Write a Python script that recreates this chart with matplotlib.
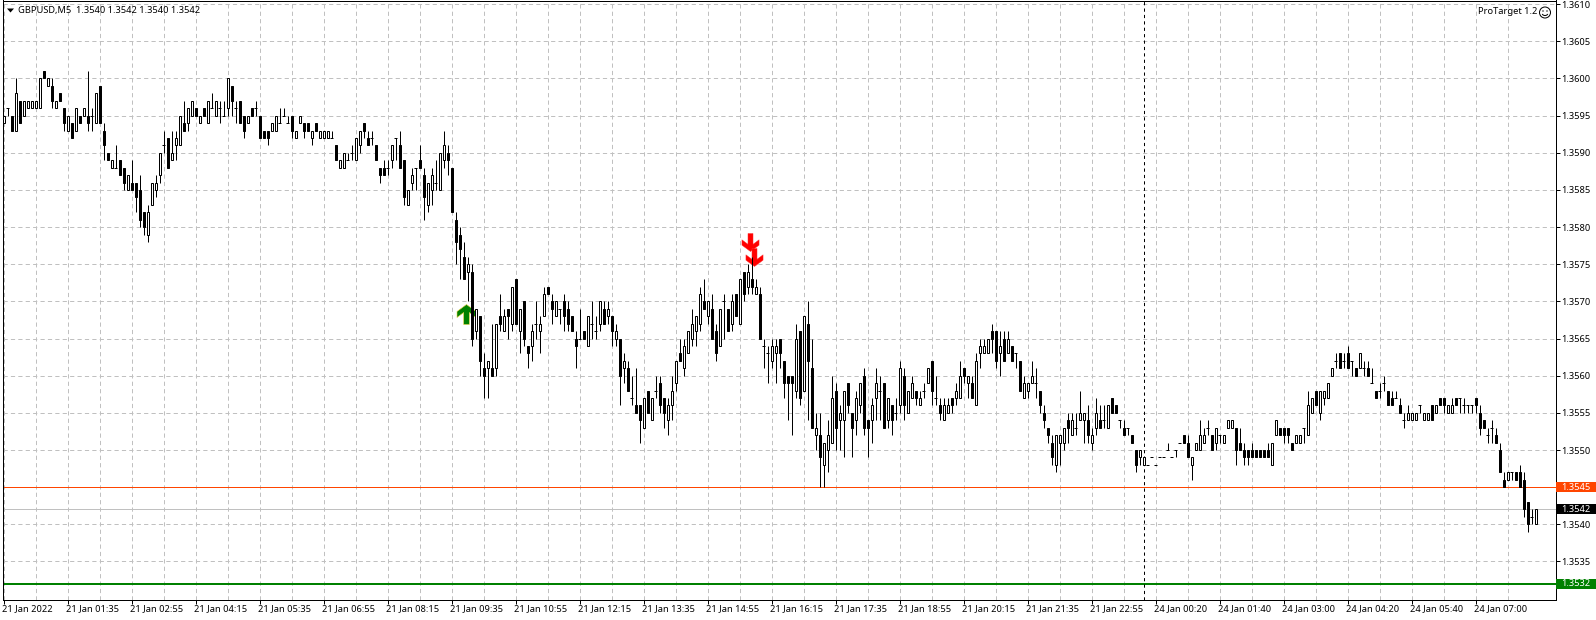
import matplotlib
matplotlib.use("Agg")
import matplotlib.pyplot as plt
from matplotlib.patches import Circle, Rectangle, Arc
from matplotlib.path import Path
import numpy as np

W, H = 1596, 620

# GBPUSD M5 bars, pips above 1.3500 (the feed has 4 digits so all are whole pips)
opens = [
    94, 96, 95, 93, 97, 95, 96, 96, 96, 96, 101, 99, 99, 96, 98, 96, 93, 94, 93, 95,
    95, 95, 95, 94, 99, 93, 90, 88, 88, 89, 88, 85, 86, 86, 85, 82, 79, 83, 85, 87,
    91, 92, 89, 91, 91, 94, 94, 95, 96, 94, 96, 94, 96, 95, 96, 95, 96, 99, 96, 97,
    95, 94, 96, 96, 95, 93, 93, 93, 93, 94, 95, 94, 95, 92, 94, 94, 94, 92, 94, 92,
    92, 92, 92, 91, 88, 88, 89, 90, 89, 91, 94, 92, 92, 91, 88, 88, 88, 89, 92, 91,
    89, 83, 86, 88, 89, 87, 83, 85, 86, 85, 89, 90, 88, 81, 79, 76, 74, 74, 66, 68,
    61, 61, 61, 61, 68, 66, 69, 67, 73, 66, 70, 64, 64, 67, 66, 68, 72, 70, 68, 69,
    70, 69, 68, 65, 65, 66, 64, 67, 66, 67, 69, 68, 68, 65, 65, 61, 61, 57, 56, 56,
    53, 58, 54, 58, 59, 57, 54, 56, 59, 63, 61, 63, 65, 66, 67, 70, 68, 69, 66, 64,
    70, 69, 67, 71, 67, 74, 72, 73, 71, 71, 64, 63, 62, 63, 65, 62, 60, 60, 58, 66,
    58, 67, 61, 52, 52, 48, 50, 51, 58, 54, 54, 59, 55, 54, 56, 60, 54, 54, 57, 58,
    59, 54, 56, 55, 56, 60, 55, 57, 58, 56, 58, 59, 62, 57, 56, 54, 55, 57, 57, 57,
    61, 59, 59, 56, 63, 63, 63, 66, 66, 63, 65, 63, 64, 63, 62, 57, 58, 59, 59, 58,
    55, 53, 51, 48, 51, 51, 54, 52, 53, 54, 54, 54, 51, 53, 54, 54, 53, 57, 56, 54,
    53, 53, 52, 50, 49, 48, 48, 49, 48, 49, 49, 50, 49, 50, 51, 52, 51, 48, 50, 50,
    51, 53, 52, 51, 52, 51, 53, 53, 53, 51, 50, 50, 50, 50, 50, 50, 50, 48, 52, 53,
    53, 53, 51, 51, 51, 53, 52, 55, 58, 55, 57, 57, 60, 62, 63, 62, 63, 62, 61, 61,
    61, 61, 59, 58, 58, 59, 58, 57, 57, 56, 54, 54, 54, 54, 56, 54, 54, 56, 55, 57,
    57, 55, 55, 57, 57, 56, 56, 56, 57, 55, 54, 52, 53, 52, 50, 46, 46, 47, 47, 47,
    46, 43, 41, 40,
]
highs = [
    95, 96, 95, 100, 97, 97, 97, 97, 97, 100, 101, 100, 100, 97, 98, 96, 95, 94, 96, 95,
    96, 101, 96, 98, 99, 94, 90, 89, 91, 89, 88, 87, 89, 86, 87, 82, 83, 86, 87, 90,
    93, 92, 93, 93, 95, 97, 96, 97, 96, 95, 96, 97, 98, 97, 97, 97, 100, 99, 97, 97,
    95, 95, 96, 97, 95, 93, 93, 94, 95, 96, 96, 95, 95, 93, 95, 94, 94, 93, 94, 93,
    93, 93, 93, 91, 89, 90, 90, 91, 92, 93, 94, 93, 93, 91, 88, 89, 89, 91, 92, 93,
    89, 85, 88, 88, 91, 88, 86, 88, 89, 90, 93, 91, 88, 82, 80, 78, 76, 75, 69, 68,
    63, 62, 67, 67, 71, 69, 69, 72, 73, 69, 70, 64, 67, 70, 68, 72, 72, 71, 70, 69,
    71, 70, 68, 66, 69, 66, 68, 70, 68, 70, 70, 70, 68, 67, 65, 63, 62, 60, 61, 56,
    57, 58, 57, 60, 60, 57, 57, 60, 62, 65, 65, 66, 69, 68, 72, 73, 70, 71, 67, 69,
    71, 69, 71, 71, 73, 74, 75, 76, 73, 72, 65, 64, 65, 65, 65, 62, 60, 60, 67, 66,
    68, 70, 65, 55, 55, 51, 54, 60, 59, 56, 58, 59, 55, 58, 59, 61, 54, 57, 61, 60,
    59, 57, 56, 57, 62, 61, 58, 60, 58, 58, 59, 61, 62, 60, 57, 57, 57, 57, 59, 62,
    61, 60, 60, 63, 65, 65, 65, 67, 66, 66, 66, 66, 64, 63, 62, 60, 59, 62, 61, 58,
    56, 53, 52, 52, 52, 53, 55, 55, 55, 58, 55, 56, 53, 57, 56, 56, 56, 57, 56, 54,
    54, 53, 52, 50, 50, 49, 48, 49, 48, 49, 49, 51, 49, 50, 51, 52, 52, 49, 51, 54,
    53, 54, 52, 53, 52, 52, 54, 54, 53, 53, 51, 50, 51, 50, 50, 50, 51, 51, 54, 53,
    53, 53, 51, 52, 52, 53, 58, 57, 58, 58, 58, 59, 61, 63, 63, 63, 64, 62, 61, 63,
    62, 62, 61, 58, 59, 60, 58, 58, 58, 57, 55, 56, 55, 55, 56, 55, 55, 56, 56, 57,
    57, 56, 57, 57, 57, 57, 56, 56, 57, 56, 54, 53, 54, 53, 51, 47, 47, 47, 47, 48,
    47, 43, 42, 42,
]
lows = [
    94, 95, 93, 93, 94, 95, 96, 96, 96, 96, 100, 99, 96, 96, 97, 93, 93, 92, 93, 94,
    95, 93, 93, 94, 94, 89, 89, 88, 88, 87, 85, 85, 85, 82, 80, 79, 78, 83, 84, 86,
    90, 88, 89, 89, 91, 93, 93, 95, 95, 94, 95, 94, 96, 95, 94, 95, 95, 95, 94, 94,
    92, 94, 95, 95, 92, 92, 91, 93, 93, 94, 95, 94, 92, 92, 94, 92, 93, 91, 93, 92,
    92, 92, 92, 89, 88, 88, 89, 89, 89, 90, 92, 91, 91, 89, 86, 87, 87, 88, 89, 88,
    83, 83, 85, 85, 88, 81, 82, 83, 85, 85, 88, 87, 82, 75, 73, 73, 70, 64, 65, 60,
    57, 57, 60, 60, 66, 66, 65, 66, 67, 63, 64, 61, 62, 65, 63, 68, 71, 67, 68, 67,
    66, 66, 66, 61, 65, 65, 64, 65, 65, 66, 67, 67, 64, 64, 56, 59, 58, 56, 55, 51,
    53, 55, 54, 57, 55, 53, 52, 54, 58, 62, 60, 63, 64, 64, 66, 69, 67, 65, 62, 64,
    65, 66, 66, 68, 67, 70, 71, 71, 71, 65, 61, 59, 61, 59, 61, 57, 54, 52, 57, 56,
    58, 54, 53, 50, 45, 45, 47, 51, 50, 50, 49, 55, 49, 52, 55, 52, 49, 51, 54, 54,
    53, 53, 52, 54, 55, 54, 55, 57, 56, 56, 57, 59, 56, 56, 54, 54, 55, 55, 56, 57,
    59, 57, 57, 56, 61, 63, 63, 63, 61, 60, 62, 63, 62, 61, 58, 57, 57, 59, 57, 55,
    53, 51, 48, 47, 48, 50, 51, 52, 52, 54, 51, 51, 50, 52, 53, 53, 53, 55, 55, 53,
    52, 52, 51, 47, 48, 48, 48, 49, 48, 49, 49, 50, 49, 49, 51, 51, 49, 46, 50, 50,
    51, 52, 50, 50, 51, 51, 53, 53, 48, 50, 48, 48, 49, 49, 49, 49, 49, 48, 52, 52,
    51, 51, 50, 51, 51, 51, 52, 55, 56, 54, 56, 57, 60, 61, 61, 61, 61, 60, 60, 61,
    60, 60, 59, 57, 57, 58, 56, 56, 57, 55, 53, 54, 54, 54, 55, 54, 54, 54, 55, 56,
    55, 55, 55, 56, 55, 55, 55, 55, 55, 52, 53, 51, 51, 51, 47, 45, 46, 46, 46, 45,
    41, 39, 40, 40,
]
closes = [
    95, 96, 93, 98, 94, 97, 97, 97, 97, 100, 100, 100, 97, 97, 97, 94, 95, 92, 96, 94,
    96, 94, 95, 98, 94, 91, 89, 89, 88, 87, 86, 87, 85, 84, 81, 80, 82, 86, 86, 90,
    91, 88, 90, 92, 95, 93, 96, 97, 95, 95, 95, 97, 96, 97, 96, 95, 100, 97, 96, 94,
    93, 95, 95, 96, 92, 92, 92, 94, 95, 94, 95, 94, 93, 93, 95, 93, 93, 93, 93, 93,
    93, 93, 92, 89, 89, 90, 89, 90, 92, 93, 93, 91, 92, 89, 87, 87, 88, 91, 92, 88,
    84, 85, 87, 88, 88, 84, 86, 87, 86, 90, 91, 89, 82, 78, 77, 73, 75, 65, 69, 62,
    60, 62, 60, 67, 67, 68, 68, 72, 67, 69, 65, 63, 66, 67, 67, 71, 71, 69, 70, 69,
    68, 67, 66, 64, 65, 65, 68, 67, 66, 70, 67, 69, 66, 66, 60, 62, 58, 57, 55, 54,
    57, 55, 57, 58, 56, 55, 56, 58, 62, 62, 64, 66, 67, 68, 71, 69, 70, 65, 63, 69,
    70, 66, 70, 68, 73, 71, 74, 72, 72, 65, 64, 63, 64, 64, 63, 59, 59, 59, 65, 57,
    68, 62, 53, 53, 49, 51, 52, 57, 53, 55, 58, 56, 53, 57, 59, 53, 53, 56, 59, 58,
    53, 57, 54, 55, 61, 56, 58, 59, 57, 57, 58, 61, 58, 57, 55, 56, 56, 56, 58, 60,
    60, 60, 57, 62, 64, 64, 65, 65, 62, 64, 62, 65, 62, 63, 58, 59, 59, 60, 59, 56,
    54, 52, 49, 52, 52, 53, 53, 54, 53, 55, 55, 52, 52, 55, 53, 54, 56, 55, 55, 54,
    52, 53, 51, 48, 50, 49, 48, 49, 48, 49, 49, 50, 49, 50, 51, 51, 49, 49, 51, 52,
    52, 53, 50, 53, 52, 52, 54, 54, 50, 50, 49, 49, 49, 49, 49, 49, 49, 51, 54, 52,
    52, 52, 50, 52, 52, 53, 56, 57, 56, 58, 58, 59, 61, 62, 61, 62, 61, 62, 60, 63,
    61, 60, 59, 57, 58, 59, 56, 56, 57, 55, 54, 55, 55, 55, 56, 55, 55, 54, 56, 56,
    56, 56, 56, 56, 57, 56, 56, 56, 56, 53, 53, 52, 53, 51, 47, 45, 47, 47, 46, 45,
    42, 40, 41, 42,
]

n_bars = len(opens)
opens = np.array(opens) / 10000 + 1.35
highs = np.array(highs) / 10000 + 1.35
lows = np.array(lows) / 10000 + 1.35
closes = np.array(closes) / 10000 + 1.35
bars = np.arange(n_bars)

price_ticks = [1.3535, 1.3540, 1.3545, 1.3550, 1.3555, 1.3560, 1.3565, 1.3570, 1.3575,
               1.3580, 1.3585, 1.3590, 1.3595, 1.3600, 1.3605, 1.3610]
time_labels = ["21 Jan 2022", "21 Jan 01:35", "21 Jan 02:55", "21 Jan 04:15", "21 Jan 05:35",
               "21 Jan 06:55", "21 Jan 08:15", "21 Jan 09:35", "21 Jan 10:55", "21 Jan 12:15",
               "21 Jan 13:35", "21 Jan 14:55", "21 Jan 16:15", "21 Jan 17:35", "21 Jan 18:55",
               "21 Jan 20:15", "21 Jan 21:35", "21 Jan 22:55", "24 Jan 00:20", "24 Jan 01:40",
               "24 Jan 03:00", "24 Jan 04:20", "24 Jan 05:40", "24 Jan 07:00"]

# horizontal levels with their price tag colours
levels = [1.3545, 1.3542, 1.3532]
level_colors = ["#ff4500", "#c0c0c0", "#008000"]
level_widths = [1, 1, 2]
tag_colors = ["#ff4500", "#000000", "#008000"]

buy_bars = [115.6]
buy_prices = [1.35683]
sell_bars = [186.6, 187.7]
sell_prices = [1.3578, 1.3576]
day_start_bar = 285

px = 72 / 100  # one pixel in points
font_size = 6.7

plt.rcParams["font.family"] = ["Noto Sans", "DejaVu Sans"]
fig = plt.figure(figsize=(W / 100, H / 100), dpi=100, facecolor="white")
ax = fig.add_axes([2.5 / W, (H - 599.5) / H, 1553 / W, 599 / H])
ax.set_xlim((2.5 - 3.5) / 4, (1555.5 - 3.5) / 4)
# 1.3540 sits at y=524.3 and one pip is 7.43 px
ax.set_ylim(1.3540 - (599.5 - 524.3) / 7.43 / 10000, 1.3540 + (524.3 - 0.5) / 7.43 / 10000)

ax.set_axisbelow(True)
ax.grid(True, which="both", color="#c0c0c0", lw=px, linestyle=(0, (4.2, 3.2)))
ax.set_xticks(np.arange(0, n_bars, 16))
ax.set_xticks(np.arange(8, n_bars + 1, 16), minor=True)
ax.set_xticklabels(time_labels, ha="left", fontsize=font_size)
ax.set_yticks(price_ticks)
ax.set_yticklabels(["%.4f" % p for p in price_ticks], fontsize=font_size)
ax.yaxis.tick_right()
ax.tick_params(axis="x", which="major", length=3.5 * px, width=px, pad=0.8, color="black")
ax.tick_params(axis="x", which="minor", length=0)
ax.tick_params(axis="y", which="major", length=3.5 * px, width=px, pad=1.5, color="black")
# date labels start a little left of their tick; has to come after tick_params
shift = matplotlib.transforms.ScaledTranslation(-2 / 100, 0, fig.dpi_scale_trans)
for lab in ax.get_xticklabels():
    lab.set_transform(lab.get_transform() + shift)
for s in ax.spines.values():
    s.set_linewidth(px)

# signal arrows go under the candles
down_verts = [(-0.28, 1), (0.28, 1), (0.28, -0.2), (0.95, 0.3), (0.95, -0.3), (0, -1),
              (-0.95, -0.3), (-0.95, 0.3), (-0.28, -0.2), (-0.28, 1)]
up_verts = [(x, -y) for x, y in down_verts]
ax.plot(sell_bars, sell_prices, linestyle="none", marker=Path(down_verts), ms=18 * px,
        color="#ff0000", mec="#ff3030", mew=0.3, zorder=2.8)
ax.plot(buy_bars, buy_prices, linestyle="none", marker=Path(up_verts), ms=20 * px,
        color="#008000", mec="#e8d040", mew=0.4, zorder=2.8)

# candles: white up, black down, wicks under the bodies
ax.vlines(bars, lows, highs, color="black", lw=px, zorder=3)
up = closes > opens
down = closes < opens
doji = closes == opens
ax.bar(bars[up], (closes - opens)[up], bottom=opens[up], width=0.5,
       color="white", edgecolor="black", linewidth=px, zorder=4)
ax.bar(bars[down], (opens - closes)[down], bottom=closes[down], width=0.5,
       color="black", edgecolor="black", linewidth=px, zorder=4)
ax.hlines(opens[doji], bars[doji] - 0.4, bars[doji] + 0.4, color="black", lw=px, zorder=4)

# levels
for lev, col, lw in zip(levels, level_colors, level_widths):
    ax.axhline(lev, color=col, lw=lw * px, zorder=2.2)
ax.axvline(day_start_bar, color="black", lw=px, linestyle=(0, (3.2, 3.2)), zorder=2.3)

# price tags on the right of the frame
tag_tf = ax.get_yaxis_transform()
for lev, col in zip(levels, tag_colors):
    tag = Rectangle((1, lev - 0.68 / 10000), 41 / 1553, 1.36 / 10000, transform=tag_tf,
                    facecolor=col, edgecolor="none", clip_on=False, zorder=7)
    ax.add_patch(tag)
    ax.text(1 + 6 / 1553, lev, "%.4f" % lev, transform=tag_tf, color="white", fontsize=font_size,
            va="center", ha="left", zorder=8, clip_on=False)

# header texts
fig.text(18 / W, 1 - 10.5 / H, "GBPUSD,M5  1.3540 1.3542 1.3540 1.3542", fontsize=font_size,
         va="center", ha="left", color="black")
fig.text(1537 / W, 1 - 11.5 / H, "ProTarget 1.2", fontsize=font_size, va="center", ha="right", color="black")

# small marker triangle next to the symbol name, and the smiley, in pixel coordinates
fig.add_artist(plt.Polygon([(7 / W, 1 - 8.5 / H), (14 / W, 1 - 8.5 / H), (10.5 / W, 1 - 12.5 / H)],
                           closed=True, facecolor="black", edgecolor="none", transform=fig.transFigure))
pix = matplotlib.transforms.IdentityTransform()
fig.add_artist(Circle((1545, H - 12.5), 5.5, transform=pix, facecolor="white", edgecolor="black", lw=px))
fig.add_artist(Circle((1543, H - 11), 0.7, transform=pix, facecolor="black", edgecolor="none"))
fig.add_artist(Circle((1547, H - 11), 0.7, transform=pix, facecolor="black", edgecolor="none"))
fig.add_artist(Arc((1545, H - 13), 6, 5, theta1=200, theta2=340, transform=pix, color="black", lw=px))

fig.savefig("out.png", dpi=100)
